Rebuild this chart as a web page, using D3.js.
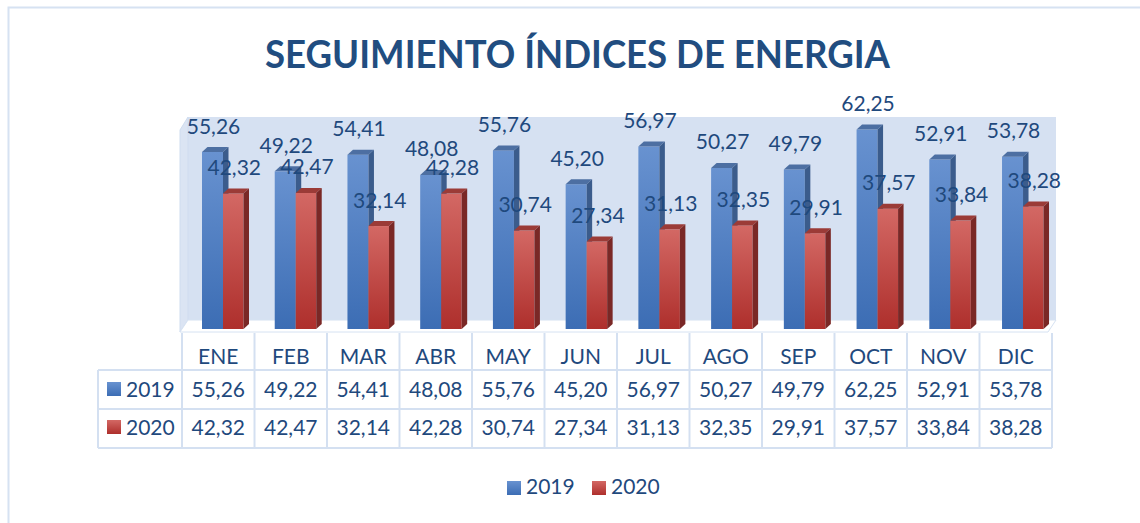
<!DOCTYPE html>
<html><head><meta charset="utf-8">
<script src="https://cdn.jsdelivr.net/npm/d3@7"></script>
<style>html,body{margin:0;padding:0;background:#fff;}svg{display:block;font-family:Lato,"Open Sans",sans-serif;}</style>
</head><body>
<svg id="c" width="1140" height="523"></svg>
<script>
const title = "SEGUIMIENTO ÍNDICES DE ENERGIA";
const months = ["ENE","FEB","MAR","ABR","MAY","JUN","JUL","AGO","SEP","OCT","NOV","DIC"];
const seriesNames = ["2019","2020"];
const v2019 = [55.26,49.22,54.41,48.08,55.76,45.20,56.97,50.27,49.79,62.25,52.91,53.78];
const v2020 = [42.32,42.47,32.14,42.28,30.74,27.34,31.13,32.35,29.91,37.57,33.84,38.28];
const series = [v2019, v2020];

const fmt = v => v.toFixed(2).replace(".", ",");
const textCol = "#1F497D";
const lineCol = "#d4e0f1";
const fs = 21;
const svg = d3.select("#c");

// gradients
const defs = svg.append("defs");
const grads = [
  {id:"gB", top:"#6892d0", bot:"#3c6db4"},
  {id:"gR", top:"#d36864", bot:"#ae2f2c"}
];
grads.forEach(g=>{
  const lg = defs.append("linearGradient").attr("id",g.id).attr("x1",0).attr("y1",0).attr("x2",0).attr("y2",1);
  lg.append("stop").attr("offset","0%").attr("stop-color",g.top);
  lg.append("stop").attr("offset","100%").attr("stop-color",g.bot);
});
const sideCol = ["#3b5c8c","#7a2826"];
const topCol = ["#4d6fa2","#9b3b37"];
const fillId = ["url(#gB)","url(#gR)"];

// outer border
svg.append("rect").attr("x",8.5).attr("y",7.5).attr("width",1140).attr("height",530)
  .attr("fill","none").attr("stroke","#d6e2f2").attr("stroke-width",2);

// title
svg.append("text").attr("x",577.5).attr("y",68).attr("text-anchor","middle")
  .attr("font-size",39).attr("font-weight",700).attr("fill","#214d80")
  .attr("textLength",625).attr("lengthAdjust","spacingAndGlyphs").text(title);

// scales
const y = d3.scaleLinear().domain([0,70]).range([329, 329-70*3.203]);
const xCol = d3.scaleBand().domain(months).range([182,1052]);
const xBar = d3.scaleBand().domain(months).range([202, 202+12*72.73]);
const bw = [21,20.5];
const dx = 5.5, dy = 5;

// 3D walls
const wallTop = 117, wallBot = 320, wl = 188, wr = 1056, fl = 180;
svg.append("polygon").attr("points",`${wl},${wallTop} ${wr},${wallTop} ${wr},${wallBot} ${wl},${wallBot}`)
  .attr("fill","#d6e1f2");
svg.append("polygon").attr("points",`${fl},${wallTop+13} ${wl},${wallTop} ${wl},${wallBot} ${fl},${wallBot+12}`)
  .attr("fill","#dbe4f3").attr("stroke","#cfdcef").attr("stroke-width",1);
svg.append("polygon").attr("points",`${fl},${wallBot+12} ${wl},${wallBot} ${wr},${wallBot} ${wr-8},${wallBot+12}`)
  .attr("fill","#ffffff").attr("stroke","#d6e2f2").attr("stroke-width",1);

// bars
const barsG = svg.append("g");
months.forEach((m,i)=>{
  series.forEach((s,k)=>{
    const x0 = xBar(m) + (k===0?0:bw[0]);
    const w = bw[k];
    const yt = y(s[i]), yb = y(0);
    const g = barsG.append("g");
    g.append("rect").attr("x",x0).attr("y",yt).attr("width",w).attr("height",yb-yt).attr("fill",fillId[k]);
    g.append("polygon").attr("points",`${x0},${yt} ${x0+dx},${yt-dy} ${x0+w+dx},${yt-dy} ${x0+w},${yt}`).attr("fill",topCol[k]);
    g.append("polygon").attr("points",`${x0+w},${yt} ${x0+w+dx},${yt-dy} ${x0+w+dx},${yb-dy} ${x0+w},${yb}`).attr("fill",sideCol[k]);
  });
});
// labels
months.forEach((m,i)=>{
  series.forEach((s,k)=>{
    const x0 = xBar(m) + (k===0?0:bw[0]);
    svg.append("text").attr("x",x0+bw[k]/2+1).attr("y",y(s[i])-18.5)
      .attr("text-anchor","middle").attr("font-size",fs).attr("fill",textCol).text(fmt(s[i]));
  });
});

// data table
const tg = svg.append("g");
[370,409,448].forEach(yy=>{
  tg.append("line").attr("x1",98).attr("x2",1052).attr("y1",yy).attr("y2",yy).attr("stroke",lineCol).attr("stroke-width",2);
});
tg.append("line").attr("x1",98).attr("x2",98).attr("y1",370).attr("y2",448).attr("stroke",lineCol).attr("stroke-width",2);
months.forEach(m=>{
  tg.append("line").attr("x1",xCol(m)).attr("x2",xCol(m)).attr("y1",333).attr("y2",448).attr("stroke",lineCol).attr("stroke-width",2);
});
tg.append("line").attr("x1",1052).attr("x2",1052).attr("y1",333).attr("y2",448).attr("stroke",lineCol).attr("stroke-width",2);
// header
months.forEach(m=>{
  tg.append("text").attr("x",xCol(m)+xCol.bandwidth()/2).attr("y",364).attr("text-anchor","middle")
    .attr("font-size",fs).attr("fill",textCol).text(m);
});
const rowBase = [397,435];
series.forEach((s,k)=>{
  tg.append("rect").attr("x",107).attr("y",rowBase[k]-15).attr("width",14).attr("height",14).attr("fill",fillId[k]);
  tg.append("text").attr("x",126).attr("y",rowBase[k]).attr("font-size",fs).attr("fill",textCol).text(seriesNames[k]);
  months.forEach((m,i)=>{
    tg.append("text").attr("x",xCol(m)+xCol.bandwidth()/2).attr("y",rowBase[k]).attr("text-anchor","middle")
      .attr("font-size",fs).attr("fill",textCol).text(fmt(s[i]));
  });
});

// legend
const legX = [507,592];
seriesNames.forEach((n,k)=>{
  svg.append("rect").attr("x",legX[k]).attr("y",481).attr("width",14).attr("height",14).attr("fill",fillId[k]);
  svg.append("text").attr("x",legX[k]+19).attr("y",494).attr("font-size",fs).attr("fill",textCol).text(n);
});
</script>
</body></html>
